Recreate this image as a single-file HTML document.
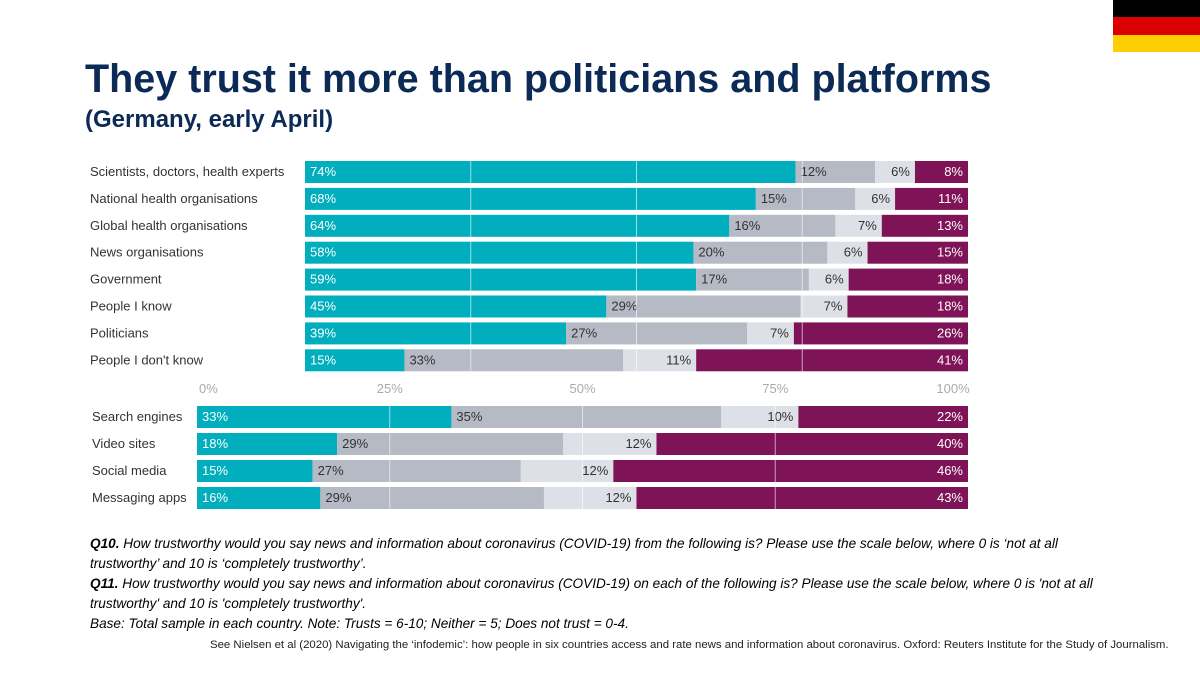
<!DOCTYPE html>
<html><head><meta charset="utf-8"><style>
body{margin:0;width:1200px;height:675px;background:#fff;overflow:hidden;font-family:"Liberation Sans",sans-serif;position:relative}
.t{position:absolute;color:#0b2a55;font-weight:bold;white-space:nowrap}
.note{position:absolute;left:90px;top:534px;font-size:13.6px;line-height:20px;color:#000;font-style:italic;width:1015px}
.src{position:absolute;left:210px;top:639px;font-size:11.4px;color:#222;white-space:nowrap}
</style></head><body>
<div style="position:absolute;left:1113px;top:0;width:87px;height:52px">
<div style="height:17px;background:#000"></div><div style="height:18px;background:#dd0000"></div><div style="height:17px;background:#ffce00"></div></div>
<div class="t" style="left:85px;top:57px;font-size:39.5px">They trust it more than politicians and platforms</div>
<div class="t" style="left:85px;top:106px;font-size:24px">(Germany, early April)</div>
<svg id="c" width="1200" height="675" style="position:absolute;left:0;top:0"></svg>
<div class="note"><b>Q10.</b> How trustworthy would you say news and information about coronavirus (COVID-19) from the following is? Please use the scale below, where 0 is ‘not at all trustworthy’ and 10 is ‘completely trustworthy’.<br><b>Q11.</b> How trustworthy would you say news and information about coronavirus (COVID-19) on each of the following is? Please use the scale below, where 0 is 'not at all trustworthy' and 10 is 'completely trustworthy'.<br>Base: Total sample in each country. Note: Trusts = 6-10; Neither = 5; Does not trust = 0-4.</div>
<div class="src">See Nielsen et al (2020) Navigating the ‘infodemic’: how people in six countries access and rate news and information about coronavirus. Oxford: Reuters Institute for the Study of Journalism.</div>
<script>
const topCats=["Scientists, doctors, health experts","National health organisations","Global health organisations","News organisations","Government","People I know","Politicians","People I don't know"];
const topTrust=[74,68,64,58,59,45,39,15];
const topDk=[12,15,16,20,17,29,27,33];
const topNeither=[6,6,7,6,6,7,7,11];
const topNot=[8,11,13,15,18,18,26,41];
const botCats=["Search engines","Video sites","Social media","Messaging apps"];
const botTrust=[33,18,15,16];
const botDk=[35,29,27,29];
const botNeither=[10,12,12,12];
const botNot=[22,40,46,43];
const ticks=["0%","25%","50%","75%","100%"];
const colors=["#00aebd","#b6bac4","#dde0e6","#7f1357"];
const tcol=["#fff","#333","#333","#fff"];
const svg=document.getElementById('c');const NS="http://www.w3.org/2000/svg";
function el(t,a){const e=document.createElementNS(NS,t);for(const k in a)e.setAttribute(k,a[k]);svg.appendChild(e);return e;}
function panel(cats,series,x0,x1,y0,step,lblX,name){
 const sx=v=>x0+v/100*(x1-x0);
 cats.forEach((c,i)=>{
  const y=y0+i*step;
  const l=el('text',{x:lblX,y:y+15,'font-size':13,fill:'#333'});l.textContent=c;
  
  
  const tot=series.reduce((a,s)=>a+s[i],0);
  let acc=0;
  series.forEach((s,k)=>{
   const v=s[i]*100/tot;
   const r=el('rect',{x:sx(acc),y:y,width:sx(acc+v)-sx(acc),height:22,fill:colors[k]});
   
   
   const end=(k>=2);
   const t=el('text',{x:end?sx(acc+v)-5:sx(acc)+5,y:y+15,'font-size':13,fill:tcol[k],'text-anchor':end?'end':'start'});
   t.textContent=s[i]+'%';
   
   
   acc+=v;
  });
 });
 [25,50,75].forEach(g=>{const ln=el('line',{x1:sx(g),x2:sx(g),y1:y0,y2:y0+cats.length*step-5,stroke:'#fff','stroke-opacity':0.6,'stroke-width':1});
  
  });
 return sx;
}
panel(topCats,[topTrust,topDk,topNeither,topNot],305,968,161,26.9,90,'top');
const sx=panel(botCats,[botTrust,botDk,botNeither,botNot],197,968,406,27,92,'bottom');
ticks.forEach((t,i)=>{const x=sx(i*25);const e=el('text',{x:i==4?x-15:(i==0?x+2:x),y:393,'font-size':13,fill:'#aaa','text-anchor':i==0?'start':'middle'});e.textContent=t;
 
 });
</script>
</body></html>
